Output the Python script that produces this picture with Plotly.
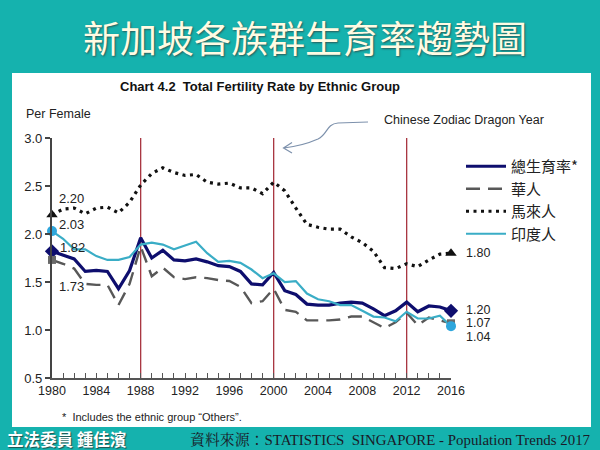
import plotly.graph_objects as go

years = list(range(1980, 2017))
total = [1.82, 1.78, 1.74, 1.61, 1.62, 1.61, 1.43, 1.62, 1.96, 1.75, 1.83, 1.73, 1.72, 1.74, 1.71, 1.67,
         1.66, 1.61, 1.48, 1.47, 1.60, 1.41, 1.37, 1.27, 1.26, 1.26, 1.28, 1.29, 1.28, 1.22, 1.15, 1.20,
         1.29, 1.19, 1.25, 1.24, 1.20]
chinese = [1.73, 1.69, 1.64, 1.48, 1.47, 1.47, 1.26, 1.48, 1.87, 1.56, 1.65, 1.55, 1.53, 1.55, 1.54, 1.52,
           1.51, 1.45, 1.28, 1.30, 1.43, 1.21, 1.19, 1.10, 1.10, 1.10, 1.11, 1.14, 1.14, 1.08, 1.02, 1.08,
           1.18, 1.05, 1.13, 1.10, 1.07]
malay = [2.20, 2.26, 2.27, 2.21, 2.27, 2.28, 2.22, 2.33, 2.51, 2.63, 2.69, 2.64, 2.61, 2.62, 2.54, 2.52,
         2.53, 2.48, 2.48, 2.42, 2.54, 2.45, 2.27, 2.10, 2.07, 2.05, 2.05, 1.97, 1.91, 1.82, 1.65, 1.64,
         1.69, 1.66, 1.73, 1.79, 1.80]
indian = [2.03, 1.95, 1.84, 1.84, 1.77, 1.73, 1.73, 1.76, 1.89, 1.91, 1.89, 1.84, 1.88, 1.92, 1.80, 1.71,
          1.72, 1.70, 1.63, 1.54, 1.59, 1.50, 1.51, 1.38, 1.32, 1.30, 1.26, 1.26, 1.20, 1.14, 1.13, 1.09,
          1.19, 1.12, 1.12, 1.15, 1.04]
series_names = ["總生育率*", "華人", "馬來人", "印度人"]
dragon_years = [1988, 2000, 2012]
x_ticks = [1980, 1984, 1988, 1992, 1996, 2000, 2004, 2008, 2012, 2016]
y_ticks = [0.5, 1.0, 1.5, 2.0, 2.5, 3.0]

# plot area in pixels
L, R, T, B = 52, 451, 138, 378
W, H = R - L, B - T


def px(x):
    return (x - L) / W


def py(y):
    return (B - y) / H


SANS = "Liberation Sans, Arial, sans-serif"
CJK = "Noto Sans CJK TC, sans-serif"
TEAL = "#15B2AE"

fig = go.Figure()

# dragon year lines
for yr in dragon_years:
    fig.add_trace(go.Scatter(x=[yr, yr], y=[0.5, 3.03], mode="lines",
                             line=dict(color="#A8343F", width=1.3),
                             showlegend=False, hoverinfo="skip", cliponaxis=False))

styles = [
    dict(data=total, color="#0E0E6E", width=3.2, dash="solid", sym="diamond", msize=11, mcolor="#0E0E6E"),
    dict(data=chinese, color="#585858", width=2.4, dash="14px,8px", sym="square", msize=8, mcolor="#6A6A6A"),
    dict(data=malay, color="#111111", width=3.2, dash="3px,4.5px", sym="triangle-up", msize=10, mcolor="#111111"),
    dict(data=indian, color="#3AADC6", width=2.2, dash="solid", sym="circle", msize=10, mcolor="#2EA6DC"),
]

for name, s in zip(series_names, styles):
    fig.add_trace(go.Scatter(x=years, y=s["data"], mode="lines", name=name,
                             line=dict(color=s["color"], width=s["width"], dash=s["dash"]),
                             cliponaxis=False))
for s in styles:
    d = s["data"]
    fig.add_trace(go.Scatter(x=[years[0], years[-1]], y=[d[0], d[-1]], mode="markers",
                             marker=dict(symbol=s["sym"], size=s["msize"], color=s["mcolor"]),
                             showlegend=False, cliponaxis=False))

annotations = []
# start labels
start_shift = [(6, 4), (5, -27), (5, 16), (5, 7)]
for s, (xs, ys) in zip(styles, start_shift):
    annotations.append(dict(x=years[0], y=s["data"][0], xref="x", yref="y", text=f"{s['data'][0]:.2f}",
                            showarrow=False, xanchor="left", yanchor="middle", xshift=xs, yshift=ys,
                            font=dict(family=SANS, size=13, color="#222")))
# end labels
end_shift = [1, 0, 0, -11]
for s, ys in zip(styles, end_shift):
    annotations.append(dict(x=years[-1], y=s["data"][-1], xref="x", yref="y", text=f"{s['data'][-1]:.2f}",
                            showarrow=False, xanchor="left", yanchor="middle", xshift=13, yshift=ys,
                            font=dict(family=SANS, size=12.5, color="#222")))


def ann(x, y, text, size, color, family, xanchor="center", bold=False, **kw):
    annotations.append(dict(x=px(x), y=py(y), xref="paper", yref="paper",
                            text=f"<b>{text}</b>" if bold else text, showarrow=False,
                            xanchor=xanchor, yanchor="middle",
                            font=dict(family=family, size=size, color=color, **kw)))


ann(305, 37, "新加坡各族群生育率趨勢圖", 37, "#FFFBE3", CJK, shadow="1px 1px 2px #2A5A58")
ann(260, 86, "Chart 4.2  Total Fertility Rate by Ethnic Group", 13, "#111", SANS, bold=True)
ann(24, 114, "Per Female", 12.5, "#222", SANS, xanchor="left")
ann(464, 120, "Chinese Zodiac Dragon Year", 12.5, "#222", SANS)
ann(60, 417, "*  Includes the ethnic group \u201cOthers\u201d.", 11, "#222", SANS, xanchor="left")
ann(5, 439, "立法委員 鍾佳濱", 16.5, "#FFFFFF", CJK, xanchor="left", bold=True, shadow="1px 1px 1px #1F4F4D")
ann(593, 440, "資料來源：STATISTICS&nbsp;&nbsp;SINGAPORE - Population Trends 2017", 14.9, "#1A1A28",
    "Liberation Serif, Noto Serif CJK TC, Noto Sans CJK TC, serif", xanchor="right")

# curved arrow
def pt(x, y):
    return f"{px(x):.5f},{py(y):.5f}"

arrow_path = (f"M {pt(368,122)} L {pt(338,123)} C {pt(326,124)} {pt(328,134)} {pt(318,139)} "
              f"C {pt(309,143)} {pt(300,146)} {pt(284,148)} "
              f"M {pt(292,142.5)} L {pt(283.5,148)} L {pt(292,153)}")

shapes = [
    dict(type="rect", xref="paper", yref="paper", x0=px(12), x1=px(591), y0=py(427), y1=py(73),
         fillcolor="white", line=dict(width=0), layer="below"),
    dict(type="path", xref="paper", yref="paper", path=arrow_path,
         line=dict(color="#7D91AC", width=1.2)),
]

fig.update_layout(
    width=600, height=450, autosize=False,
    margin=dict(l=L, r=600 - R, t=T, b=450 - B, pad=0),
    paper_bgcolor=TEAL, plot_bgcolor="white",
    font=dict(family=SANS, color="#222"),
    showlegend=True,
    legend=dict(x=px(461), y=py(150), xanchor="left", yanchor="top", bgcolor="rgba(0,0,0,0)",
                font=dict(family=CJK, size=15, color="#222"), tracegroupgap=0, itemwidth=40),
    annotations=annotations,
    shapes=shapes,
    xaxis=dict(range=[1980, 2016], tickvals=x_ticks, ticks="inside", ticklen=5, tickwidth=1.2,
               tickcolor="#555", showline=True, linecolor="#555", linewidth=1.5, showgrid=False,
               zeroline=False, tickfont=dict(family=SANS, size=12.5, color="#222"),
               minor=dict(dtick=1, ticks="inside", ticklen=5, tickwidth=1.2, tickcolor="#555", showgrid=False)),
    yaxis=dict(range=[0.5, 3.0], tickvals=y_ticks, ticktext=[f"{v:.1f}" for v in y_ticks],
               ticks="outside", ticklen=5, tickwidth=1.5, tickcolor="#444",
               showline=True, linecolor="#444", linewidth=2.2, showgrid=False, zeroline=False,
               tickfont=dict(family=SANS, size=13, color="#222")),
)

fig.write_html("out.html", config={"displayModeBar": False},
               post_script="document.body.style.margin='0';document.body.style.overflow='hidden';")
